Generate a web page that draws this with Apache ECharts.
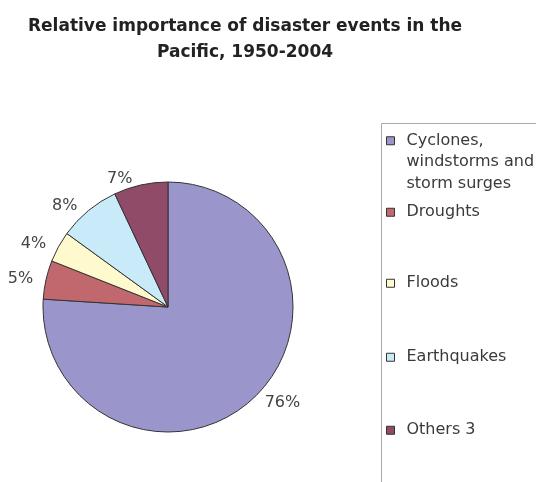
<!DOCTYPE html>
<html><head><meta charset="utf-8">
<script src="https://cdn.jsdelivr.net/npm/echarts@6/dist/echarts.min.js"></script>
<style>html,body{margin:0;padding:0;background:#fff}#c{width:536px;height:482px}</style>
</head><body><div id="c"></div>
<script>
var categories = ['Cyclones, windstorms and storm surges', 'Droughts', 'Floods', 'Earthquakes', 'Others 3'];
var values = [76, 5, 4, 8, 7];
var colors = ['#9a95cb', '#c0686e', '#fffacd', '#c9ebf9', '#8f4b68'];
var legendTops = [82, 196.5, 267.5, 341.5, 414.5];
var FONT = 'DejaVu Sans, sans-serif';

var chart = echarts.init(document.getElementById('c'));
var legends = categories.map(function (name, i) {
  return {
    orient: 'vertical', left: 381, top: legendTops[i],
    data: [name], icon: 'rect', itemWidth: 8, itemHeight: 8, itemGap: 0,
    selectedMode: false,
    itemStyle: { borderColor: '#333', borderWidth: 1 },
    textStyle: { fontFamily: FONT, fontSize: 16, color: '#3a3a3a', lineHeight: 21.5, padding: [0, 0, 0, 7] },
    formatter: function (n) { return n === categories[0] ? '\n\nCyclones,\nwindstorms and\nstorm surges' : n; }
  };
});
chart.setOption({
  animation: false,
  title: {
    text: 'Relative importance of disaster events in the\nPacific, 1950-2004',
    left: 240, top: 9, textAlign: 'center',
    textStyle: { fontFamily: FONT, fontSize: 17, fontWeight: 'bold', color: '#222', lineHeight: 26 }
  },
  graphic: [{ type: 'rect', shape: { x: 381.5, y: 123.5, width: 200, height: 400 }, style: { fill: 'none', stroke: '#aaa', lineWidth: 1 } }],
  legend: legends,
  series: [{
    type: 'pie', center: [168, 307], radius: 125, startAngle: 90, clockwise: true,
    color: colors,
    itemStyle: { borderColor: '#333', borderWidth: 1 },
    label: { show: true, position: 'outside', formatter: '{c}%', fontFamily: FONT, fontSize: 16, color: '#444',
      overflow: 'none', edgeDistance: 0 },
    labelLine: { show: false, length: 6, length2: 2 },
    emphasis: { disabled: true },
    data: categories.map(function (n, i) { return { name: n, value: values[i] }; })
  }]
});
</script></body></html>
